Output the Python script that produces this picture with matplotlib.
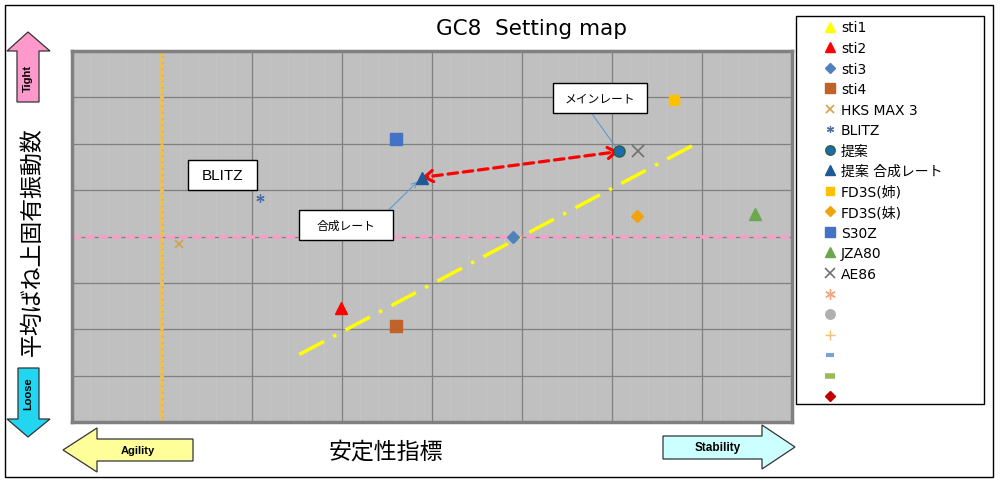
import matplotlib
matplotlib.use('Agg')
import matplotlib.pyplot as plt
import matplotlib.patches as mpatches
import numpy as np

plt.rcParams['font.family'] = ['Noto Sans CJK JP', 'DejaVu Sans']

W, H = 1001, 485

# ---- series (x: 安定性指標, y: 平均ばね上固有振動数, grid units) ----
names = ['sti1', 'sti2', 'sti3', 'sti4', 'HKS MAX 3', 'BLITZ', '提案',
         '提案 合成レート', 'FD3S(姉)', 'FD3S(妹)', 'S30Z', 'JZA80', 'AE86',
         '', '', '', '', '', '']
xs = [[], [2.99], [4.90], [3.60], [1.19], [2.09], [6.08],
      [3.89], [6.69], [6.28], [3.60], [7.59], [6.29],
      [], [], [], [], [], []]
ys = [[], [2.47], [4.00], [2.08], [3.84], [4.82], [5.83],
      [5.27], [6.94], [4.45], [6.10], [4.48], [5.83],
      [], [], [], [], [], []]

trend_x = [2.53, 6.90]
trend_y = [1.46, 5.96]
ref_x = 1.0
ref_y = 4.0

# marker styles per series
markers = ['^', '^', 'D', 's', 'x', (6, 2, 0), 'o', '^', 's', 'D', 's', '^', 'x',
           (6, 2, 0), 'o', '+', '_', '_', 'D']
colors = ['#ffff00', '#ff0000', '#4f81bd', '#c0622a', '#d4a048', '#4a6fa5', '#1a6bb0',
          '#1f5a96', '#ffc000', '#f0a30a', '#4472c4', '#6aa84f', '#707070',
          '#f4a582', '#b0b0b0', '#f7c16b', '#7f9fd8', '#9bbb59', '#c00000']
sizes = [9, 9, 6, 8, 6, 6, 8, 8, 7, 6, 8, 8, 9, 9, 8, 9, 6, 9, 6]
widths = [1, 1, 1, 1, 1.2, 0.9, 1, 1, 1, 1, 1, 1, 1.2, 1.0, 1, 1.0, 3, 4, 1]


def px(x, y):
    return x / W, 1 - y / H


fig = plt.figure(figsize=(W / 100, H / 100), dpi=100)
fig.patch.set_facecolor('white')

# outer frame
x0, y0 = px(5, 478)
fig.patches.append(mpatches.Rectangle((x0, y0), 988 / W, 472 / H, transform=fig.transFigure,
                                      fill=False, ec='black', lw=1.0))

ax = fig.add_axes([71.7 / W, 61.7 / H, 720 / W, 371.6 / H])
ax.set_facecolor('#c0c0c0')
ax.set_xlim(0, 8)
ax.set_ylim(0, 8)
ax.set_xticks(np.arange(0, 9, 1))
ax.set_xticks(np.arange(0, 8.01, 0.2), minor=True)
ax.set_yticks(np.arange(0, 9, 1))
ax.tick_params(which='both', length=0, labelbottom=False, labelleft=False)
ax.grid(which='minor', axis='x', color='#c7c7c7', lw=0.6, zorder=0)
ax.grid(which='major', color='#808080', lw=0.9, zorder=0)
ax.set_axisbelow(True)
for s in ax.spines.values():
    s.set_color('#808080')
    s.set_linewidth(2.5)

# reference lines
ax.axvline(ref_x, color='#f0c050', lw=2.8, ls=(0, (0.6, 1.0)), dash_capstyle='round', zorder=1)
ax.axhline(ref_y, color='#f4a0c8', lw=2.6, ls=(0, (2.6, 1.1)), zorder=1)
ax.plot(trend_x, trend_y, color='#ffff00', lw=2.5, ls=(0, (8, 3, 1, 3)), zorder=2)

handles = []
for nm, x, y, m, c, ms, mw in zip(names, xs, ys, markers, colors, sizes, widths):
    mec = '#2f5f3f' if nm == '提案' else c
    ln, = ax.plot(x, y, ls='none', marker=m, ms=ms, color=c, mec=mec, mew=mw, zorder=4)
    handles.append(ln)

# shift arrow between 合成レート and 提案
p_a = (xs[7][0], ys[7][0])
p_b = (xs[6][0], ys[6][0])
ax.annotate('', xy=p_b, xytext=p_a,
            arrowprops=dict(arrowstyle='-', color='#ff0000', lw=2.3, ls=(0, (3, 1.8)),
                            shrinkA=8, shrinkB=6), zorder=3)
for tip, other in [(p_a, p_b), (p_b, p_a)]:
    d = np.array(other) - np.array(tip)
    ax.annotate('', xy=tip, xytext=tuple(np.array(tip) + d * 0.03),
                arrowprops=dict(arrowstyle='->,head_length=0.6,head_width=0.4', color='#ff0000',
                                lw=2.3, shrinkA=0, shrinkB=7 if tip == p_a else 5), zorder=3)


def label_box(bx, by, bw, bh, text, fs, fam=None):
    ax.add_patch(mpatches.Rectangle((bx, by), bw, bh, transform=ax.transAxes,
                                    fc='white', ec='black', lw=1.0, zorder=5))
    kw = {} if fam is None else {'family': fam}
    ax.text(bx + bw / 2, by + bh / 2, text, transform=ax.transAxes, ha='center', va='center',
            fontsize=fs, zorder=6, **kw)


label_box(0.162, 0.626, 0.095, 0.081, 'BLITZ', 11, fam='Liberation Sans')
label_box(0.316, 0.491, 0.130, 0.080, '合成レート', 8.5)
label_box(0.669, 0.832, 0.130, 0.080, 'メインレート', 8.5)

ax.annotate('', xy=p_a, xytext=(0.44, 0.571), textcoords='axes fraction',
            arrowprops=dict(arrowstyle='->,head_length=0.4,head_width=0.2', color='#5b9bd5',
                            lw=0.8, shrinkA=0, shrinkB=4), zorder=3)
ax.annotate('', xy=p_b, xytext=(0.722, 0.832), textcoords='axes fraction',
            arrowprops=dict(arrowstyle='-', color='#5b9bd5', lw=0.8, shrinkA=0, shrinkB=4),
            zorder=3)

# titles
fig.text(*px(532, 29), 'GC8  Setting map', ha='center', va='center', fontsize=15.5,
         family='DejaVu Sans')
fig.text(*px(32, 242), '平均ばね上固有振動数', ha='center', va='center', fontsize=16.5,
         rotation=90)
fig.text(*px(386, 452), '安定性指標', ha='center', va='center', fontsize=16.5)


# block arrows
def block(pts, fc, label, tx, ty, rot=0, fs=8):
    poly = [px(a, b) for a, b in pts]
    fig.patches.append(mpatches.Polygon(poly, closed=True, transform=fig.transFigure,
                                        fc=fc, ec='#333333', lw=0.9))
    fig.text(*px(tx, ty), label, ha='center', va='center', fontsize=fs, fontweight='bold',
             family='Liberation Sans', rotation=rot)


block([(28, 33), (50, 52), (39, 52), (39, 103), (17, 103), (17, 52), (7, 52)],
      '#ff99cc', 'Tight', 28, 78, rot=90)
block([(18, 369), (39, 369), (39, 420), (50, 420), (28, 438), (7, 420), (18, 420)],
      '#22d6f2', 'Loose', 28, 394, rot=90)
block([(63, 451), (97, 429), (97, 440), (193, 440), (193, 462), (97, 462), (97, 473)],
      '#ffff99', 'Agility', 138, 451)
block([(663, 437), (762, 437), (762, 426), (795, 448), (762, 470), (762, 460), (663, 460)],
      '#ccffff', 'Stability', 718, 448, fs=8.5)

# legend
lx, ly = px(796, 405)
fig.patches.append(mpatches.Rectangle((lx, ly), 188 / W, 388 / H, transform=fig.transFigure,
                                      fill=False, ec='black', lw=1.0))
leg = fig.legend(handles, [n if n else ' ' for n in names], loc='upper left',
                 bbox_to_anchor=px(823, 21.5), frameon=False, borderpad=0,
                 borderaxespad=0, handlelength=1.0, handletextpad=0.3, labelspacing=0.47,
                 numpoints=1, markerscale=0.85,
                 prop={'family': ['DejaVu Sans', 'Noto Sans CJK JP'], 'size': 10})

fig.savefig('out.png', dpi=100)
